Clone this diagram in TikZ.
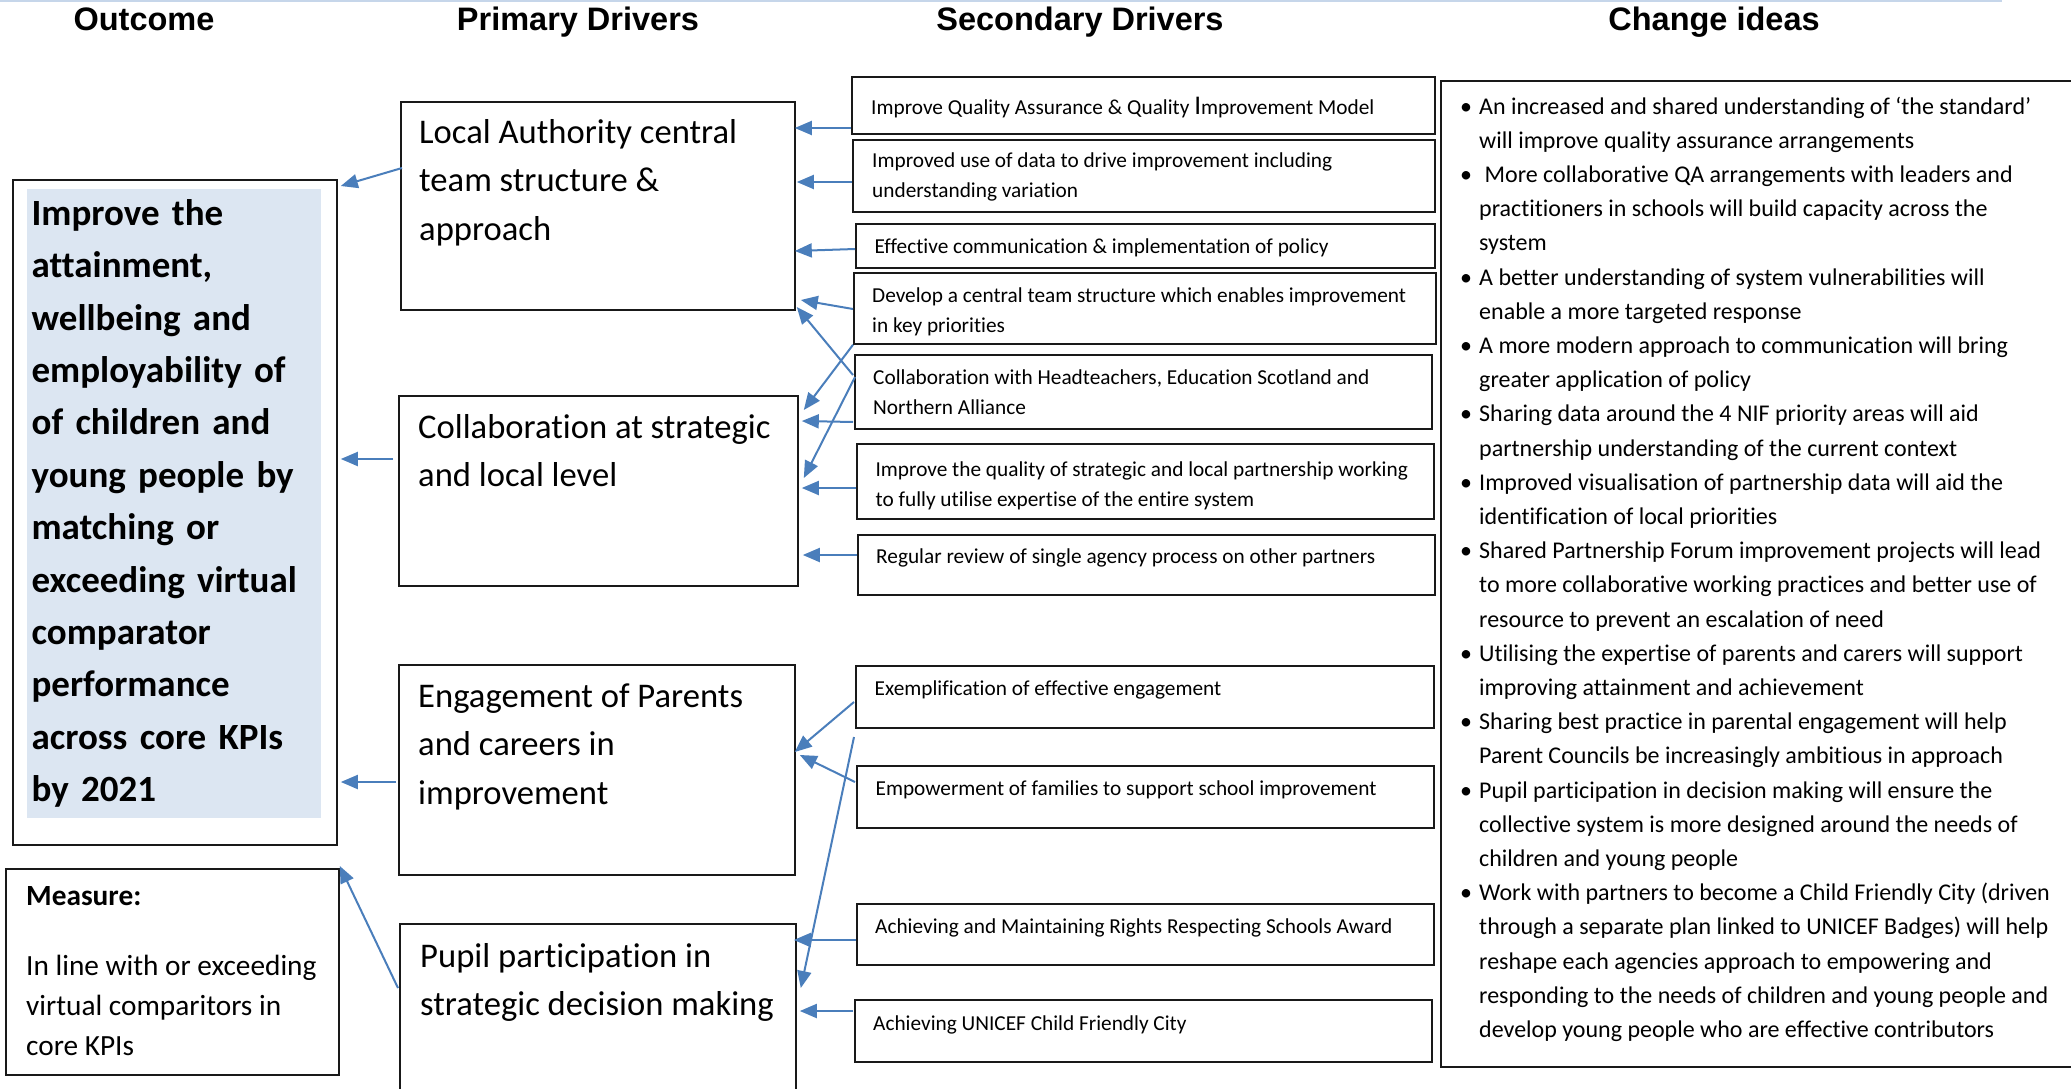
\documentclass[tikz,border=0pt]{standalone}
\usepackage{fontspec}
\setmainfont{Carlito}[Ligatures=CommonOff]
\newfontfamily\headfont{Liberation Sans}
\usepackage{tikz}
\usetikzlibrary{arrows.meta}
\definecolor{linkblue}{HTML}{4A7EBB}
\definecolor{goalfill}{HTML}{DCE6F2}
\tikzset{box/.style={draw=black!90, line width=1.8pt, anchor=north west, inner sep=0pt},
	link/.style={draw=linkblue, line width=2pt, -{Triangle[length=17pt,width=14pt]}},
	head/.style={anchor=base, font=\headfont\bfseries\fontsize{32.5}{38}\selectfont},
	goal/.style={anchor=north west, fill=goalfill, inner xsep=4.4pt, inner ysep=0pt, text width=285pt, align=left, font=\bfseries\fontsize{37}{52.4}\selectfont},
	mtext/.style={anchor=north west, inner sep=0pt, align=left, font=\fontsize{29.3}{40}\selectfont},
	ptext/.style={anchor=north west, inner sep=0pt, align=left, font=\fontsize{34.6}{48.5}\selectfont},
	stext/.style={anchor=north west, inner sep=0pt, align=left, font=\fontsize{21.3}{30}\selectfont},
	itext/.style={anchor=north west, inner sep=0pt, font=\fontsize{24}{34.2}\selectfont}}

\begin{document}
\begin{tikzpicture}[x=1pt,y=-1pt]
	\useasboundingbox (0,0) rectangle (2071,1089);
	\draw[goalfill!85!linkblue, line width=2.5pt] (0,1) -- (2002,1);
	
	% column titles
	\node[head] (h-outcome) at (144,31) {Outcome};
	\node[head] (h-primary) at (578,31) {Primary Drivers};
	\node[head] (h-secondary) at (1080,31) {Secondary Drivers};
	\node[head] (h-ideas) at (1714,31) {Change ideas};
	
	% outcome and measure
	\node[box, minimum width=324, minimum height=665] (outcome) at (12,179) {};
	\node[goal] (outcome-txt) at (27,188.5) {\strut Improve the\\ attainment,\\ wellbeing and\\ employability of\\ of children and\\ young people by\\ matching or\\ exceeding virtual\\ comparator\\ performance\\ across core KPIs\\ by 2021\strut};
	\node[box, minimum width=333, minimum height=206] (measure) at (5,868) {};
	\node[mtext] (measure-txt) at (26,877) {\strut\textbf{Measure:}\\[30pt] In line with or exceeding\\ virtual comparitors in\\ core KPIs};
	
	% primary drivers
	\node[box, minimum width=394, minimum height=208] (central) at (400,101) {};
	\node[box, minimum width=399, minimum height=190] (collab) at (398,395) {};
	\node[box, minimum width=396, minimum height=210] (parents) at (398,664) {};
	\node[box, minimum width=396, minimum height=187] (pupil) at (399,923) {};
	\node[ptext] (central-txt) at (419,109) {\strut Local Authority central\\ team structure \&\\ approach};
	\node[ptext] (collab-txt) at (418,404) {\strut Collaboration at strategic\\ and local level};
	\node[ptext] (parents-txt) at (418,673) {\strut Engagement of Parents\\ and careers in\\ improvement};
	\node[ptext] (pupil-txt) at (420,933) {\strut Pupil participation in\\ strategic decision making};
	
	% secondary drivers
	\foreach \name/\x/\y/\w/\h in {qa/851/76/583/57, data/852/139/582/72, comms/855/223/579/44, structure/853/272/582/71, heads/854/354/577/74, partner/856/443/577/75, review/857/534/577/60, exemplar/855/665/578/62, families/856/765/577/62, rights/856/903/577/61, unicef/854/999/577/62}
		\node[box, minimum width=\w, minimum height=\h] (\name) at (\x,\y) {};
	\node[stext] (qa-txt) at (871,93) {\strut Improve Quality Assurance \& Quality {\fontsize{27}{30}\selectfont I}mprovement Model};
	\node[stext] (data-txt) at (872,146) {\strut Improved use of data to drive improvement including\\ understanding variation};
	\node[stext] (comms-txt) at (874.5,232) {\strut Effective communication \& implementation of policy};
	\node[stext] (structure-txt) at (872,281) {\strut Develop a central team structure which enables improvement\\ in key priorities};
	\node[stext] (heads-txt) at (873,363) {\strut Collaboration with Headteachers, Education Scotland and\\ Northern Alliance};
	\node[stext] (partner-txt) at (875.4,455) {\strut Improve the quality of strategic and local partnership working\\ to fully utilise expertise of the entire system};
	\node[stext] (review-txt) at (876,542) {\strut Regular review of single agency process on other partners};
	\node[stext] (exemplar-txt) at (874.5,674) {\strut Exemplification of effective engagement};
	\node[stext] (families-txt) at (875.4,774) {\strut Empowerment of families to support school improvement};
	\node[stext] (rights-txt) at (875,912) {\strut Achieving and Maintaining Rights Respecting Schools Award};
	\node[stext] (unicef-txt) at (873,1009) {\strut Achieving UNICEF Child Friendly City};
	
	% change ideas
	\node[box, minimum width=650, minimum height=986] (ideas) at (1440,80) {};
	\node[itext] (ideas-txt) at (1460,90) {\begin{tabular}{@{}p{19pt}@{}l@{}}
			\textbullet & An increased and shared understanding of ‘the standard’\\
			& will improve quality assurance arrangements\\
			\textbullet & \ More collaborative QA arrangements with leaders and\\
			& practitioners in schools will build capacity across the\\
			& system\\
			\textbullet & A better understanding of system vulnerabilities will\\
			& enable a more targeted response\\
			\textbullet & A more modern approach to communication will bring\\
			& greater application of policy\\
			\textbullet & Sharing data around the 4 NIF priority areas will aid\\
			& partnership understanding of the current context\\
			\textbullet & Improved visualisation of partnership data will aid the\\
			& identification of local priorities\\
			\textbullet & Shared Partnership Forum improvement projects will lead\\
			& to more collaborative working practices and better use of\\
			& resource to prevent an escalation of need\\
			\textbullet & Utilising the expertise of parents and carers will support\\
			& improving attainment and achievement\\
			\textbullet & Sharing best practice in parental engagement will help\\
			& Parent Councils be increasingly ambitious in approach\\
			\textbullet & Pupil participation in decision making will ensure the\\
			& collective system is more designed around the needs of\\
			& children and young people\\
			\textbullet & Work with partners to become a Child Friendly City (driven\\
			& through a separate plan linked to UNICEF Badges) will help\\
			& reshape each agencies approach to empowering and\\
			& responding to the needs of children and young people and\\
			& develop young people who are effective contributors
		\end{tabular}};
	
	% primary drivers into the outcome
	\draw[link] ([shift={(2,67)}]central.north west) -- ([shift={(3,7)}]outcome.north east);
	\draw[link] ([shift={(-5,64)}]collab.north west) -- ([shift={(3,280)}]outcome.north east);
	\draw[link] ([shift={(-2,118)}]parents.north west) -- ([shift={(3,603)}]outcome.north east);
	\draw[link] ([shift={(-1,65)}]pupil.north west) -- ([shift={(0,-2)}]measure.north east);
	
	% secondary drivers into the primary drivers
	\draw[link] ([shift={(0,52)}]qa.north west) -- ([shift={(-1,27)}]central.north east);
	\draw[link] ([shift={(0,43)}]data.north west) -- ([shift={(1,81)}]central.north east);
	\draw[link] ([shift={(0,26)}]comms.north west) -- ([shift={(-1,150)}]central.north east);
	\draw[link] ([shift={(0,37)}]structure.north west) -- ([shift={(5,199)}]central.north east);
	\draw[link] ([shift={(-1,21)}]heads.north west) -- ([shift={(1,206)}]central.north east);
	\draw[link] (structure.south west) -- ([shift={(5,15)}]collab.north east);
	\draw[link] ([shift={(1,23)}]heads.north west) -- ([shift={(5,83)}]collab.north east);
	\draw[link] ([shift={(-1,68)}]heads.north west) -- ([shift={(3,26)}]collab.north east);
	\draw[link] ([shift={(0,45)}]partner.north west) -- ([shift={(3,93)}]collab.north east);
	\draw[link] ([shift={(0,21)}]review.north west) -- ([shift={(4,160)}]collab.north east);
	\draw[link] ([shift={(-1,37)}]exemplar.north west) -- ([shift={(-1,88)}]parents.north east);
	\draw[link] ([shift={(-1,17)}]families.north west) -- ([shift={(4,91)}]parents.north east);
	\coordinate (loose) at (854,737);
	\draw[link] (loose) -- ([shift={(4,65)}]pupil.north east);
	\draw[link] ([shift={(0,37)}]rights.north west) -- ([shift={(-3,17)}]pupil.north east);
	\draw[link] ([shift={(-1,12)}]unicef.north west) -- ([shift={(3,88)}]pupil.north east);
\end{tikzpicture}
\end{document}
